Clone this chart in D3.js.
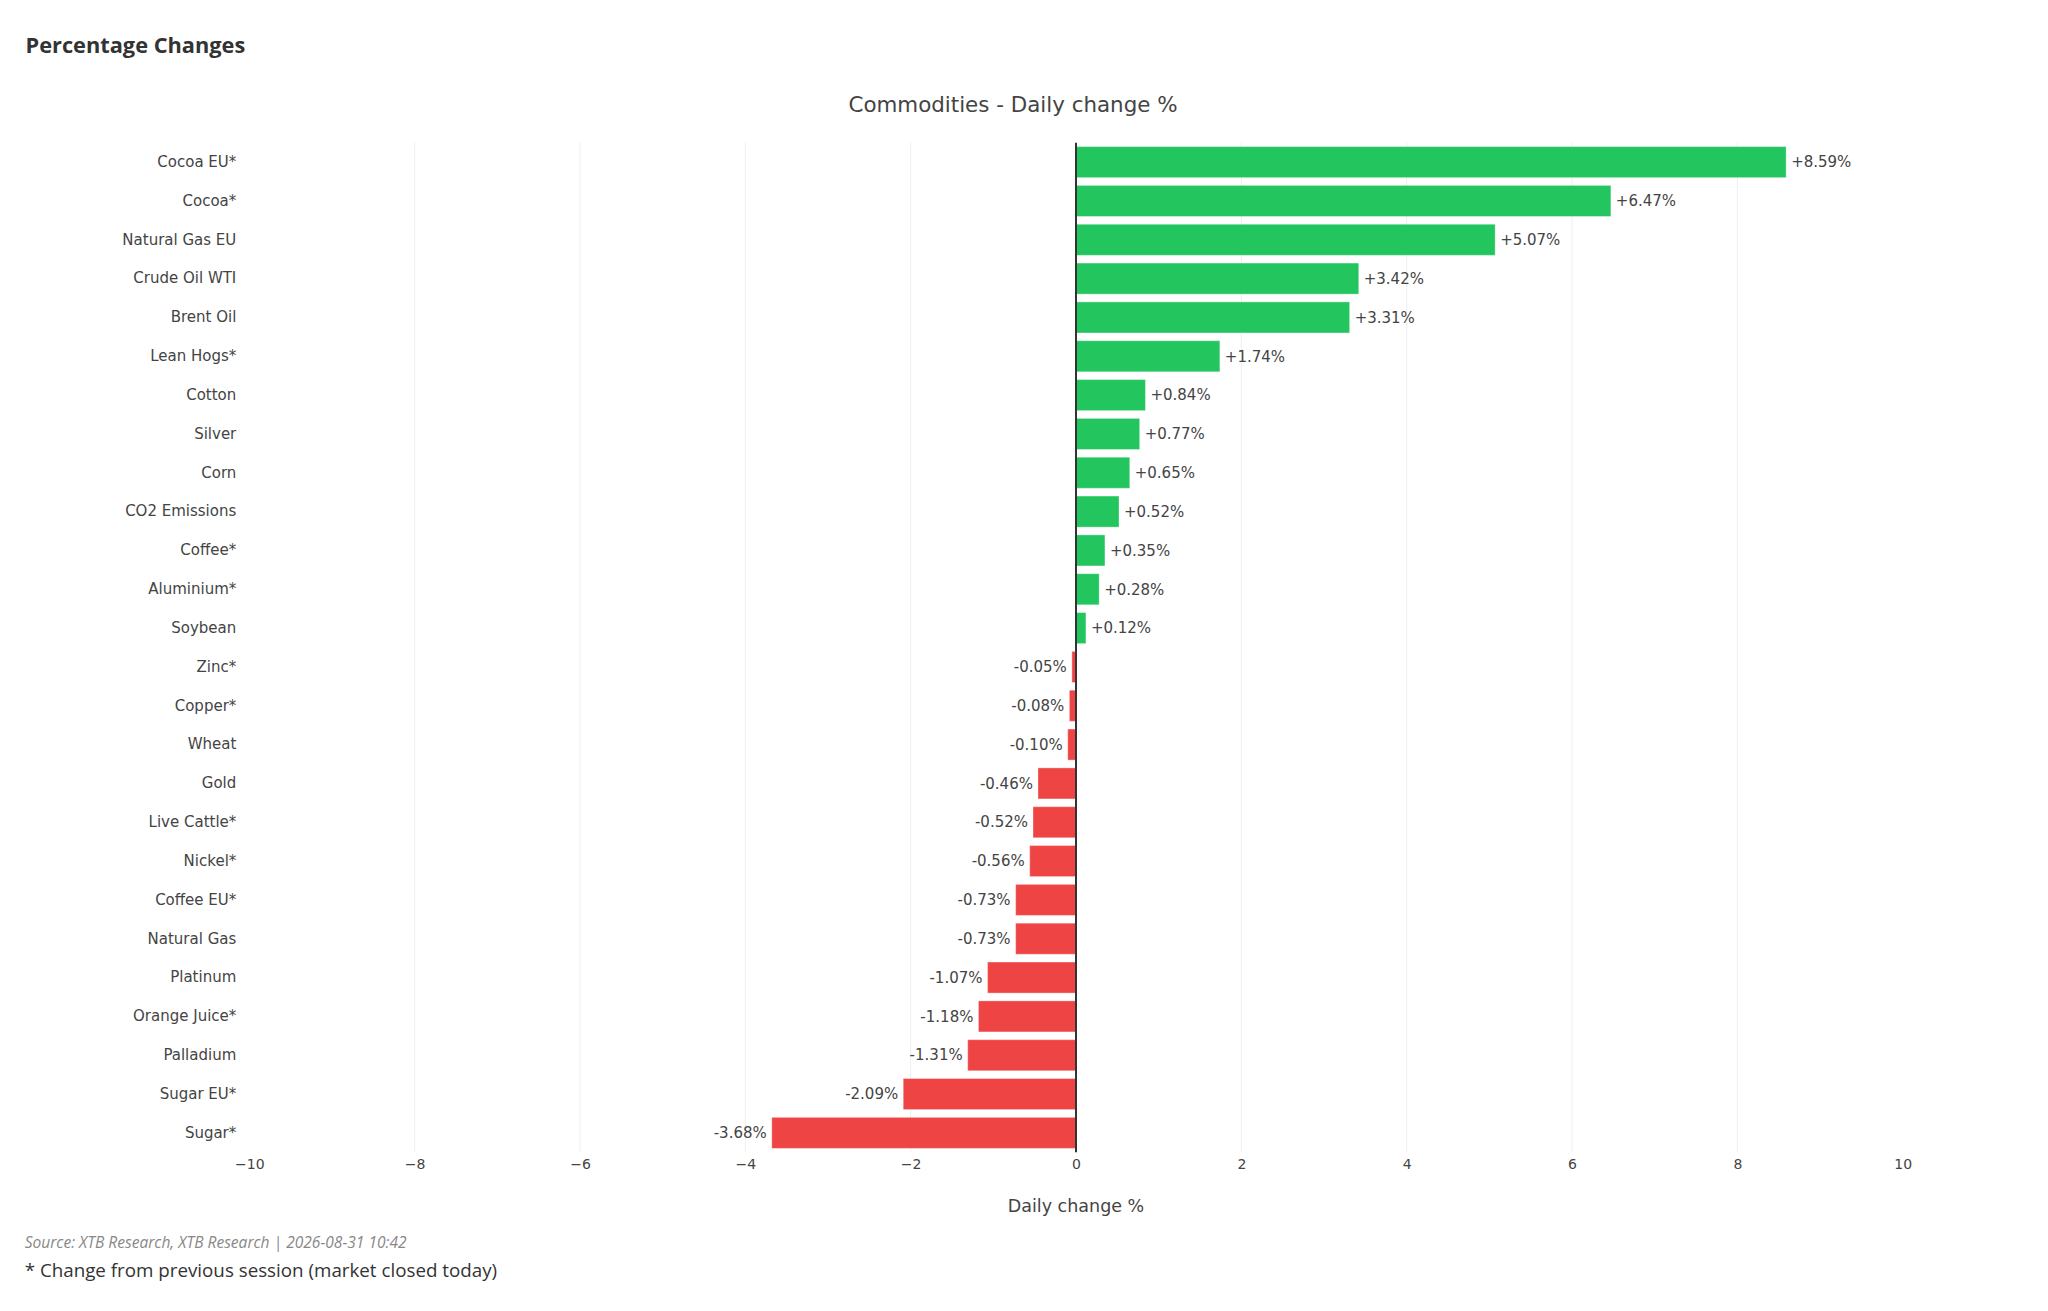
<!DOCTYPE html>
<html>
<head>
<meta charset="utf-8">
<script src="https://cdn.jsdelivr.net/npm/d3@7"></script>
<style>
  body { margin: 0; background: #fff; }
  svg { display: block; }
</style>
</head>
<body>
<div id="chart"></div>
<script>
// values, top to bottom
const categories = [
  "Cocoa EU*", "Cocoa*", "Natural Gas EU", "Crude Oil WTI", "Brent Oil",
  "Lean Hogs*", "Cotton", "Silver", "Corn", "CO2 Emissions", "Coffee*",
  "Aluminium*", "Soybean", "Zinc*", "Copper*", "Wheat", "Gold",
  "Live Cattle*", "Nickel*", "Coffee EU*", "Natural Gas", "Platinum",
  "Orange Juice*", "Palladium", "Sugar EU*", "Sugar*"
];
const changes = [
  8.59, 6.47, 5.07, 3.42, 3.31, 1.74, 0.84, 0.77, 0.65, 0.52, 0.35,
  0.28, 0.12, -0.05, -0.08, -0.10, -0.46, -0.52, -0.56, -0.73, -0.73,
  -1.07, -1.18, -1.31, -2.09, -3.68
];
const xTicks = [-10, -8, -6, -4, -2, 0, 2, 4, 6, 8, 10];

const width = 2048, height = 1311;
const plot = { left: 249.3, right: 1902.7, top: 142.7, bottom: 1152.3 };
const green = "#22c55e", red = "#ef4444";
const chartFont = "'DejaVu Sans', Verdana, sans-serif";
const pageFont = "'Open Sans', 'Noto Sans', sans-serif";

const data = categories.map((c, i) => ({ name: c, value: changes[i] }));

const svg = d3.select("#chart").append("svg")
  .attr("width", width)
  .attr("height", height);

svg.append("rect").attr("width", width).attr("height", height).attr("fill", "#fff");

const x = d3.scaleLinear().domain([-10, 10]).range([plot.left, plot.right]);
const y = d3.scaleBand()
  .domain(categories)
  .range([plot.top, plot.bottom])
  .paddingInner(0.2)
  .paddingOuter(0.1);

// grid lines (not at the edges, zero gets its own line)
svg.append("g")
  .selectAll("line")
  .data(xTicks.filter(t => t !== 0 && Math.abs(t) !== 10))
  .join("line")
    .attr("x1", d => x(d)).attr("x2", d => x(d))
    .attr("y1", plot.top).attr("y2", plot.bottom)
    .attr("stroke", "#eeeeee")
    .attr("stroke-width", 1);

// bars
svg.append("g")
  .selectAll("rect")
  .data(data)
  .join("rect")
    .attr("x", d => x(Math.min(0, d.value)))
    .attr("y", d => y(d.name))
    .attr("width", d => Math.abs(x(d.value) - x(0)))
    .attr("height", y.bandwidth())
    .attr("fill", d => d.value >= 0 ? green : red)
    .attr("stroke", "#fff")
    .attr("stroke-opacity", 0.35)
    .attr("stroke-width", 1);

// zero line
svg.append("line")
  .attr("x1", x(0)).attr("x2", x(0))
  .attr("y1", plot.top).attr("y2", plot.bottom)
  .attr("stroke", "#333")
  .attr("stroke-width", 2);

// value labels
const fmt = d3.format("+.2f");
svg.append("g")
  .selectAll("text")
  .data(data)
  .join("text")
    .attr("x", d => d.value >= 0 ? x(d.value) + 5 : x(d.value) - 5)
    .attr("y", d => y(d.name) + y.bandwidth() / 2)
    .attr("dy", "0.35em")
    .attr("text-anchor", d => d.value >= 0 ? "start" : "end")
    .attr("font-family", chartFont)
    .attr("font-size", 15)
    .attr("fill", "#444")
    .text(d => (d.value >= 0 ? fmt(d.value) : d.value.toFixed(2)) + "%");

// x axis
const xAxis = svg.append("g")
  .attr("transform", `translate(0,${plot.bottom})`)
  .call(d3.axisBottom(x).tickValues(xTicks).tickSize(0).tickPadding(7));
xAxis.select(".domain").remove();
xAxis.selectAll("text")
  .attr("font-family", chartFont)
  .attr("font-size", 14)
  .attr("fill", "#444");

// y axis
const yAxis = svg.append("g")
  .attr("transform", `translate(${plot.left},0)`)
  .call(d3.axisLeft(y).tickSize(0).tickPadding(13));
yAxis.select(".domain").remove();
yAxis.selectAll("text")
  .attr("font-family", chartFont)
  .attr("font-size", 15)
  .attr("fill", "#444");

// titles
svg.append("text")
  .attr("x", 1013).attr("y", 112.3)
  .attr("text-anchor", "middle")
  .attr("font-family", chartFont)
  .attr("font-size", 21.4)
  .attr("fill", "#444")
  .text("Commodities - Daily change %");

svg.append("text")
  .attr("x", x(0)).attr("y", 1212.3)
  .attr("text-anchor", "middle")
  .attr("font-family", chartFont)
  .attr("font-size", 17.5)
  .attr("fill", "#444")
  .text("Daily change %");

// page texts, sized to the widths seen in the reference
const fitWidth = (sel, w) => {
  const len = sel.node().getComputedTextLength();
  const size = parseFloat(sel.attr("font-size"));
  sel.attr("font-size", size * w / len);
};

const header = svg.append("text")
  .attr("x", 25.5).attr("y", 53.3)
  .attr("font-family", pageFont)
  .attr("font-weight", 700)
  .attr("font-size", 22)
  .attr("fill", "#333")
  .text("Percentage Changes");
fitWidth(header, 220);

const source = svg.append("text")
  .attr("x", 24.7).attr("y", 1247.7)
  .attr("font-family", pageFont)
  .attr("font-style", "italic")
  .attr("font-size", 15)
  .attr("fill", "#888")
  .text("Source: XTB Research, XTB Research | 2026-08-31 10:42");
fitWidth(source, 382);

const note = svg.append("text")
  .attr("x", 24.7).attr("y", 1277)
  .attr("font-family", pageFont)
  .attr("font-size", 19)
  .attr("fill", "#333")
  .text("* Change from previous session (market closed today)");
fitWidth(note, 473);
</script>
</body>
</html>
